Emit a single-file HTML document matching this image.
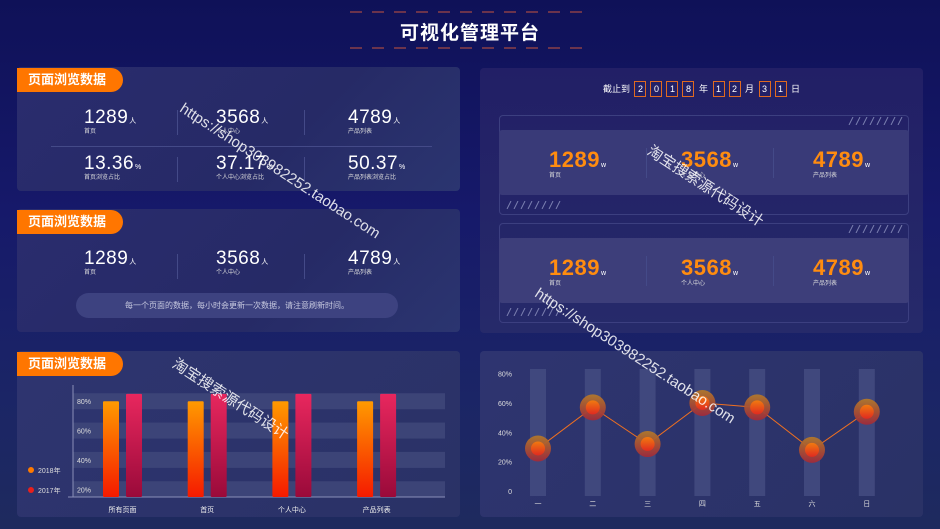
<!DOCTYPE html>
<html><head><meta charset="utf-8">
<style>
*{margin:0;padding:0;box-sizing:border-box}
body{width:940px;height:529px;overflow:hidden;position:relative;font-family:"Liberation Sans","Noto Sans CJK SC",sans-serif;color:#fff;
background:linear-gradient(180deg,#0f1158 0%,#16196a 40%,#1b2566 75%,#1e2a5e 100%)}
.panel{position:absolute;border-radius:4px;background:linear-gradient(135deg,#2a2c6e,#262a66 60%,#2b3570)}
.tag{position:absolute;left:0;top:1px;width:106px;height:24px;background:#ff7600;border-radius:0 12px 12px 0;font-size:13px;font-weight:bold;line-height:24px;padding-left:11px}
.stat{position:absolute}
.stat .n{font-size:19px;font-weight:300;letter-spacing:0.5px}
.stat .u{font-size:7px;margin-left:1px}
.stat .l{font-size:6px;color:#ddd;margin-top:-3px}
.vd{position:absolute;width:1px;background:#444a88}
.onum .n{font-size:22px;color:#ff8c10;font-weight:bold}
.box{display:inline-block;width:12px;height:16px;border:1px solid #e06a20;text-align:center;line-height:14px;font-size:9px;margin:0 2px}
.wm{position:absolute;font-size:15px;color:rgba(255,255,255,0.85);transform-origin:0 0;white-space:nowrap}
.stripe{position:absolute;height:8px;width:58px}
</style></head><body>
<svg style="position:absolute;left:0;top:0" width="940" height="60">
<line x1="350" y1="12" x2="590" y2="12" stroke="#8a3f48" stroke-width="1.5" stroke-dasharray="12,10"/>
<line x1="350" y1="48" x2="590" y2="48" stroke="#8a3f48" stroke-width="1.5" stroke-dasharray="12,10"/>
</svg>
<div style="position:absolute;left:0;width:940px;top:18px;text-align:center;font-size:19px;font-weight:bold;letter-spacing:1px">可视化管理平台</div>

<div class="panel" style="left:17px;top:67px;width:443px;height:124px">
<div class="tag">页面浏览数据</div>
<div class="stat" style="left:67px;top:40px"><span class="n">1289</span><span class="u">人</span><div class="l">首页</div></div>
<div class="stat" style="left:199px;top:40px"><span class="n">3568</span><span class="u">人</span><div class="l">个人中心</div></div>
<div class="stat" style="left:331px;top:40px"><span class="n">4789</span><span class="u">人</span><div class="l">产品列表</div></div>
<div class="vd" style="left:160px;top:43px;height:25px"></div><div class="vd" style="left:287px;top:43px;height:25px"></div>
<div style="position:absolute;left:34px;top:79px;width:381px;height:1px;background:#444a88"></div>
<div class="stat" style="left:67px;top:86px"><span class="n">13.36</span><span class="u">%</span><div class="l">首页浏览占比</div></div>
<div class="stat" style="left:199px;top:86px"><span class="n">37.17</span><span class="u">%</span><div class="l">个人中心浏览占比</div></div>
<div class="stat" style="left:331px;top:86px"><span class="n">50.37</span><span class="u">%</span><div class="l">产品列表浏览占比</div></div>
<div class="vd" style="left:160px;top:90px;height:25px"></div><div class="vd" style="left:287px;top:90px;height:25px"></div>
</div>

<div class="panel" style="left:17px;top:209px;width:443px;height:123px">
<div class="tag">页面浏览数据</div>
<div class="stat" style="left:67px;top:39px"><span class="n">1289</span><span class="u">人</span><div class="l">首页</div></div>
<div class="stat" style="left:199px;top:39px"><span class="n">3568</span><span class="u">人</span><div class="l">个人中心</div></div>
<div class="stat" style="left:331px;top:39px"><span class="n">4789</span><span class="u">人</span><div class="l">产品列表</div></div>
<div class="vd" style="left:160px;top:45px;height:25px"></div><div class="vd" style="left:287px;top:45px;height:25px"></div>
<div style="position:absolute;left:59px;top:84px;width:322px;height:25px;border-radius:13px;background:#3d4280;font-size:8px;color:#c8cae0;text-align:center;line-height:25px">每一个页面的数据，每小时会更新一次数据，请注意刷新时间。</div>
</div>

<div class="panel" style="left:480px;top:68px;width:443px;height:265px;background:linear-gradient(180deg,#221f66,#262a6a)">
<div style="position:absolute;left:0;width:443px;top:13px;text-align:center;font-size:9px">截止到 <span class="box">2</span><span class="box">0</span><span class="box">1</span><span class="box">8</span> 年 <span class="box">1</span><span class="box">2</span> 月 <span class="box">3</span><span class="box">1</span> 日</div>
<div style="position:absolute;left:19px;top:47px;width:410px;height:100px;border:1px solid #3c3f80;border-radius:4px"></div>
<div style="position:absolute;left:19px;top:62px;width:410px;height:65px;background:#393a78;border-radius:3px"></div>
<svg class="stripe" style="left:367px;top:49px" viewBox="0 0 58 8"><g stroke="#7a7fb0" stroke-width="1"><line x1="2" y1="8" x2="6" y2="0"/><line x1="9" y1="8" x2="13" y2="0"/><line x1="16" y1="8" x2="20" y2="0"/><line x1="23" y1="8" x2="27" y2="0"/><line x1="30" y1="8" x2="34" y2="0"/><line x1="37" y1="8" x2="41" y2="0"/><line x1="44" y1="8" x2="48" y2="0"/><line x1="51" y1="8" x2="55" y2="0"/></g></svg>
<svg class="stripe" style="left:25px;top:133px" viewBox="0 0 58 8"><g stroke="#7a7fb0" stroke-width="1"><line x1="2" y1="8" x2="6" y2="0"/><line x1="9" y1="8" x2="13" y2="0"/><line x1="16" y1="8" x2="20" y2="0"/><line x1="23" y1="8" x2="27" y2="0"/><line x1="30" y1="8" x2="34" y2="0"/><line x1="37" y1="8" x2="41" y2="0"/><line x1="44" y1="8" x2="48" y2="0"/><line x1="51" y1="8" x2="55" y2="0"/></g></svg>
<div style="position:absolute;left:19px;top:155px;width:410px;height:100px;border:1px solid #3c3f80;border-radius:4px"></div>
<div style="position:absolute;left:19px;top:170px;width:410px;height:65px;background:#3d3e7a;border-radius:3px"></div>
<svg class="stripe" style="left:367px;top:157px" viewBox="0 0 58 8"><g stroke="#7a7fb0" stroke-width="1"><line x1="2" y1="8" x2="6" y2="0"/><line x1="9" y1="8" x2="13" y2="0"/><line x1="16" y1="8" x2="20" y2="0"/><line x1="23" y1="8" x2="27" y2="0"/><line x1="30" y1="8" x2="34" y2="0"/><line x1="37" y1="8" x2="41" y2="0"/><line x1="44" y1="8" x2="48" y2="0"/><line x1="51" y1="8" x2="55" y2="0"/></g></svg>
<svg class="stripe" style="left:25px;top:240px" viewBox="0 0 58 8"><g stroke="#7a7fb0" stroke-width="1"><line x1="2" y1="8" x2="6" y2="0"/><line x1="9" y1="8" x2="13" y2="0"/><line x1="16" y1="8" x2="20" y2="0"/><line x1="23" y1="8" x2="27" y2="0"/><line x1="30" y1="8" x2="34" y2="0"/><line x1="37" y1="8" x2="41" y2="0"/><line x1="44" y1="8" x2="48" y2="0"/><line x1="51" y1="8" x2="55" y2="0"/></g></svg>
<div class="stat onum" style="left:69px;top:79px"><span class="n">1289</span><span class="u">w</span><div class="l">首页</div></div>
<div class="stat onum" style="left:201px;top:79px"><span class="n">3568</span><span class="u">w</span><div class="l">个人中心</div></div>
<div class="stat onum" style="left:333px;top:79px"><span class="n">4789</span><span class="u">w</span><div class="l">产品列表</div></div>
<div class="vd" style="left:166px;top:80px;height:30px"></div><div class="vd" style="left:293px;top:80px;height:30px"></div>
<div class="stat onum" style="left:69px;top:187px"><span class="n">1289</span><span class="u">w</span><div class="l">首页</div></div>
<div class="stat onum" style="left:201px;top:187px"><span class="n">3568</span><span class="u">w</span><div class="l">个人中心</div></div>
<div class="stat onum" style="left:333px;top:187px"><span class="n">4789</span><span class="u">w</span><div class="l">产品列表</div></div>
<div class="vd" style="left:166px;top:188px;height:30px"></div><div class="vd" style="left:293px;top:188px;height:30px"></div>
</div>

<div class="panel" style="left:17px;top:351px;width:443px;height:166px;background:linear-gradient(135deg,#2e3470,#2a3266)">
<div class="tag">页面浏览数据</div>
</div>
<svg id="bar" style="position:absolute;left:0;top:0" width="940" height="529">
<defs>
<linearGradient id="go" x1="0" y1="0" x2="0" y2="1"><stop offset="0" stop-color="#ff9a00"/><stop offset="1" stop-color="#f51a00"/></linearGradient>
<linearGradient id="gp" x1="0" y1="0" x2="0" y2="1"><stop offset="0" stop-color="#e8275e"/><stop offset="1" stop-color="#9a0a3a"/></linearGradient>
</defs>
</svg>

<div class="panel" style="left:480px;top:351px;width:443px;height:166px;background:linear-gradient(135deg,#2e3470,#2a3266)"></div>
<svg id="line" style="position:absolute;left:0;top:0" width="940" height="529">
<defs>
<linearGradient id="gh" x1="0" y1="0" x2="0" y2="1"><stop offset="0" stop-color="#b2782a"/><stop offset="1" stop-color="#a02a3a"/></linearGradient>
<linearGradient id="gi" x1="0" y1="0" x2="0" y2="1"><stop offset="0" stop-color="#f07a10"/><stop offset="1" stop-color="#e02a20"/></linearGradient>
</defs>
</svg>

<div class="wm" style="left:186px;top:100px;transform:rotate(33deg)">https://shop303982252.taobao.com</div>
<div class="wm" style="left:655px;top:140px;transform:rotate(33deg)">淘宝搜索源代码设计</div>
<div class="wm" style="left:541px;top:285px;transform:rotate(33deg)">https://shop303982252.taobao.com</div>
<div class="wm" style="left:180px;top:353px;transform:rotate(33deg)">淘宝搜索源代码设计</div>

<script>
const barCats=["所有页面","首页","个人中心","产品列表"];
const bar2018=[80,80,80,80];
const bar2017=[85,85,85,85];
const barTicks=[20,40,60,80];
const lineCats=["一","二","三","四","五","六","日"];
const lineVals=[29,57,32,60,57,28,54];
const lineTicks=[0,20,40,60,80];
const NS="http://www.w3.org/2000/svg";
function mk(svg,tag,attrs,txt){const e=document.createElementNS(NS,tag);for(const k in attrs)e.setAttribute(k,attrs[k]);if(txt!==undefined)e.textContent=txt;svg.appendChild(e);return e;}
const bs=document.getElementById('bar');
const by=v=>518.6-v*1.467, bx=i=>103+i*84.7, base=497;
barTicks.forEach(t=>{
 const r=mk(bs,'rect',{x:73,y:by(t)-8,width:372,height:16,fill:'#40487a',opacity:0.85});
 
 
 const l=mk(bs,'text',{x:77,y:by(t)+3,'font-size':7,fill:'#ddd'},t+'%');
 
 
});
mk(bs,'line',{x1:73,y1:385,x2:73,y2:base,stroke:'#8a8fb8','stroke-width':1});
mk(bs,'line',{x1:68,y1:base,x2:445,y2:base,stroke:'#8a8fb8','stroke-width':1});
barCats.forEach((c,i)=>{
 const a=mk(bs,'rect',{x:bx(i),y:by(bar2018[i]),width:16,height:base-by(bar2018[i]),fill:'url(#go)',rx:1});
 
 
 const b=mk(bs,'rect',{x:bx(i)+23,y:by(bar2017[i]),width:16,height:base-by(bar2017[i]),fill:'url(#gp)',rx:1});
 
 
 const t=mk(bs,'text',{x:bx(i)+19.5,y:512,'font-size':7,fill:'#eee','text-anchor':'middle'},c);
 
 
});
[['2018年','#ff7a00',473],['2017年','#e8201c',493]].forEach(([n,c,y])=>{
 const g=mk(bs,'g',{});
 
 
 mk(g,'circle',{cx:31,cy:y-3,r:3,fill:c});
 mk(g,'text',{x:38,y:y,'font-size':7,fill:'#ddd'},n);
});
const ls=document.getElementById('line');
const ly=v=>491-v*1.467, lx=i=>538+i*54.8;
lineTicks.forEach(t=>{
 const l=mk(ls,'text',{x:512,y:ly(t)+3,'font-size':7,fill:'#ddd','text-anchor':'end'},t===0?'0':t+'%');
 
 
});
lineCats.forEach((c,i)=>{
 const r=mk(ls,'rect',{x:lx(i)-8,y:369,width:16,height:127,fill:'#434a80',opacity:0.9});
 
 
 const t=mk(ls,'text',{x:lx(i),y:506,'font-size':7,fill:'#ddd','text-anchor':'middle'},c);
 
 
});
const pl=mk(ls,'polyline',{points:lineVals.map((v,i)=>lx(i)+','+ly(v)).join(' '),fill:'none',stroke:'#f07020','stroke-width':1});


lineVals.forEach((v,i)=>{
 const o=mk(ls,'circle',{cx:lx(i),cy:ly(v),r:13,fill:'url(#gh)',opacity:0.95});
 
 
 const p=mk(ls,'circle',{cx:lx(i),cy:ly(v),r:7,fill:'url(#gi)'});
 
 
});
</script>
</body></html>
